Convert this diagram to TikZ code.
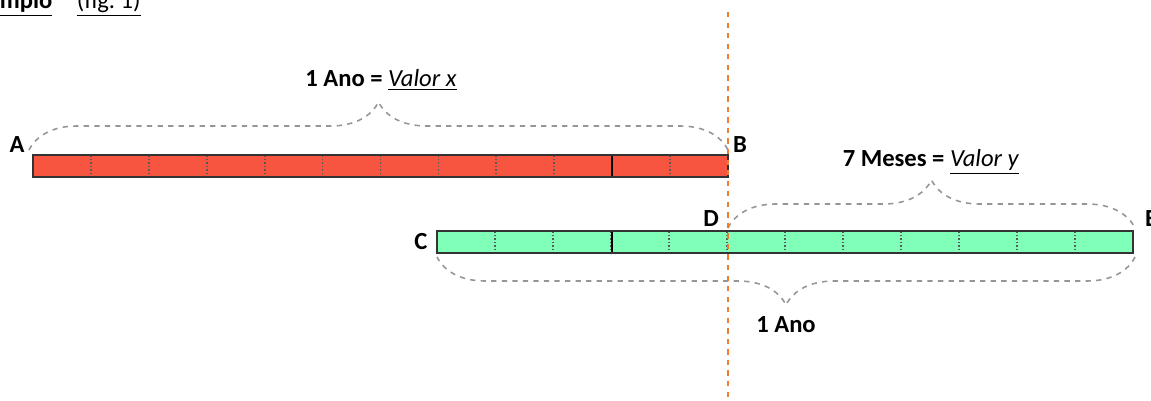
\documentclass[tikz,border=0pt]{standalone}
\usepackage{fontspec}
\setmainfont{Carlito}
\usepackage{tikz}
\usetikzlibrary{positioning,calc,decorations.pathreplacing}
\definecolor{barred}{RGB}{247,85,64}
\definecolor{bargreen}{RGB}{128,255,185}
\definecolor{lineorange}{RGB}{237,125,49}
\definecolor{bracegray}{RGB}{150,150,150}
\tikzstyle{bar} = [draw=black!80, line width=1pt]
\tikzstyle{tick} = [black!65, densely dotted, line width=1pt]
\tikzstyle{curly} = [bracegray, dashed, line width=0.9pt, decorate, decoration={brace, amplitude=0.96cm, aspect=0.5}]
\tikzstyle{letter} = [font=\fontsize{14}{16}\selectfont\bfseries, inner sep=0pt]
\tikzstyle{title} = [font=\fontsize{14}{16}\selectfont, inner sep=0pt]

\begin{document}
\begin{tikzpicture}[x=0.02cm, y=-0.02cm]
    \useasboundingbox (0,0) rectangle (1151,401);

    % Heading (cut off at the page edge)
    \node[title, anchor=base east] (head) at (141,9) {\textbf{\underline{Exemplo}}\quad\underline{(fig.~1)}};

    % Red bar: 12 months
    \fill[barred] (33,155) rectangle (728,177);
    \foreach \i in {1,...,11} {
        \draw[tick] ({33+\i*57.92},155) -- ({33+\i*57.92},177);
    }
    \draw[black, line width=1.1pt] (612,155) -- (612,177);
    \draw[bar] (33,155) rectangle (728,177);

    % Green bar: 12 months
    \fill[bargreen] (437,231) rectangle (1133,253);
    \foreach \i in {1,...,11} {
        \draw[tick] ({437+\i*58},231) -- ({437+\i*58},253);
    }
    \draw[black, line width=1.1pt] (612,231) -- (612,253);
    \draw[bar] (437,231) rectangle (1133,253);

    % Points
    \coordinate (a) at (29,150);
    \coordinate (b) at (728,150);
    \coordinate (c) at (437,257);
    \coordinate (d) at (728,228);
    \coordinate (e) at (1135,228);
    \coordinate (e2) at (1135,257);
    \node[letter] (labA) at (17,145) {A};
    \node[letter] (labB) at (740,145) {B};
    \node[letter] (labC) at (421,242) {C};
    \node[letter] (labD) at (711,219) {D};
    \node[letter] (labE) at (1151,219) {E};

    % Braces
    \draw[curly] (a) -- (b);
    \draw[curly] (d) -- (e);
    \draw[curly] (e2) -- (c);

    % Vertical cut
    \draw[lineorange, dashed, line width=1.3pt] (728,12) -- (728,401);

    % Labels
    \node[title] (yearx) at (381,80) {\textbf{1 Ano =} \underline{\textit{Valor x}}};
    \node[title] (monthsy) at (931,162) {\textbf{7 Meses =} \underline{\textit{Valor y}}};
    \node[title] (yeary) at (786,325) {\textbf{1 Ano}};
\end{tikzpicture}
\end{document}
